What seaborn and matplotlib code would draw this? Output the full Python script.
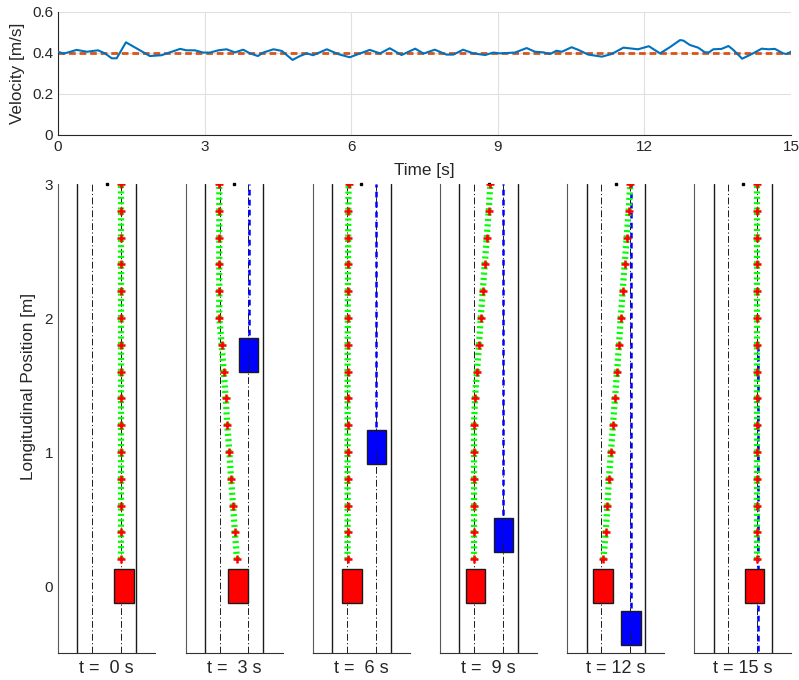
import numpy as np
import pandas as pd
import matplotlib
matplotlib.use("Agg")
import matplotlib.pyplot as plt
import seaborn as sns
from matplotlib.patches import Rectangle

# ---------------- data ----------------
time_s = [0.0, 0.11, 0.21, 0.38, 0.59, 0.82, 0.96, 1.10, 1.20, 1.39, 1.64, 1.88, 2.12, 2.29,
          2.50, 2.63, 2.80, 2.97, 3.11, 3.28, 3.45, 3.62, 3.79, 3.93, 4.09, 4.20, 4.41, 4.58,
          4.80, 4.95, 5.09, 5.22, 5.50, 5.74, 5.97, 6.15, 6.38, 6.59, 6.79, 7.03, 7.31, 7.48,
          7.71, 7.95, 8.09, 8.29, 8.50, 8.74, 8.91, 9.04, 9.35, 9.59, 9.76, 9.93, 10.07, 10.20,
          10.31, 10.51, 10.65, 10.85, 11.13, 11.33, 11.57, 11.87, 12.09, 12.32, 12.52, 12.73,
          12.80, 12.93, 13.10, 13.24, 13.32, 13.41, 13.58, 13.72, 13.82, 14.00, 14.19, 14.40,
          14.54, 14.67, 14.84, 14.91, 15.00]
velocity = [0.406, 0.397, 0.403, 0.415, 0.406, 0.413, 0.398, 0.374, 0.374, 0.452, 0.418, 0.385,
            0.389, 0.403, 0.420, 0.413, 0.413, 0.402, 0.402, 0.413, 0.418, 0.403, 0.416, 0.398,
            0.385, 0.402, 0.418, 0.410, 0.366, 0.385, 0.398, 0.389, 0.418, 0.394, 0.379, 0.395,
            0.415, 0.398, 0.423, 0.390, 0.421, 0.397, 0.416, 0.392, 0.392, 0.416, 0.398, 0.390,
            0.402, 0.398, 0.402, 0.424, 0.406, 0.403, 0.395, 0.411, 0.406, 0.428, 0.415, 0.392,
            0.382, 0.395, 0.426, 0.418, 0.433, 0.398, 0.428, 0.463, 0.460, 0.439, 0.426, 0.403,
            0.403, 0.418, 0.420, 0.434, 0.415, 0.372, 0.394, 0.421, 0.418, 0.420, 0.398, 0.395,
            0.406]
v_ref = 0.4

snap_times = [0, 3, 6, 9, 12, 15]
path_y = [0.2, 0.4, 0.6, 0.8, 1.0, 1.2, 1.4, 1.6, 1.8, 2.0, 2.2, 2.4, 2.6, 2.8, 3.0]
path_x_t0 = [0.108] * 15
path_x_t3 = [0.022, 0.007, -0.007, -0.022, -0.035, -0.050, -0.062, -0.077, -0.092, -0.110,
             -0.110, -0.110, -0.110, -0.110, -0.110]
path_x_t6 = [-0.104, -0.104, -0.103, -0.104, -0.104, -0.103, -0.104, -0.104, -0.103, -0.102,
             -0.102, -0.100, -0.099, -0.098, -0.096]
path_x_t9 = [-0.108, -0.108, -0.108, -0.108, -0.108, -0.108, -0.101, -0.086, -0.071, -0.058,
             -0.043, -0.028, -0.013, 0.0015, 0.0134]
path_x_t12 = [-0.093, -0.075, -0.063, -0.051, -0.036, -0.021, -0.006, 0.009, 0.024, 0.037,
              0.051, 0.066, 0.081, 0.096, 0.108]
path_x_t15 = [0.108] * 15
paths_x = [path_x_t0, path_x_t3, path_x_t6, path_x_t9, path_x_t12, path_x_t15]

ego_x = [0.130, 0.030, -0.071, -0.095, -0.095, 0.089]
ego_y = [0.0, 0.0, 0.0, 0.0, 0.0, 0.0]
obs_x = [np.nan, 0.110, 0.112, 0.110, 0.112, 0.110]
obs_y = [np.nan, 1.726, 1.034, 0.383, -0.310, -1.000]
obs_pred_end = [np.nan, 3.0, 3.0, 3.0, 3.0, 1.81]
car_w = 0.145
car_l = 0.254
lane_edges = [-0.218, 0.218]
lane_centers = [-0.108, 0.108]
y_ticks = [0, 1, 2, 3]

# ---------------- style ----------------
sns.set_style("white")
plt.rcParams["font.family"] = ["Liberation Sans", "DejaVu Sans"]
plt.rcParams["axes.edgecolor"] = "0.15"
plt.rcParams["xtick.color"] = "0.15"
plt.rcParams["ytick.color"] = "0.15"
plt.rcParams["text.color"] = "0.15"
plt.rcParams["axes.labelcolor"] = "0.15"

fig = plt.figure(figsize=(7.99, 6.8), dpi=100)

# ---------------- velocity panel ----------------
ax = fig.add_axes([0.0726, 0.8015, 0.9174, 0.1809])
df = pd.DataFrame({"t": time_s, "v": velocity})
ax.axhline(v_ref, color="#D95319", lw=2.0, ls=(0, (2.4, 1.4)), zorder=2)
sns.lineplot(data=df, x="t", y="v", ax=ax, color="#0072BD", lw=1.5, zorder=3)
ax.set_xlim(0, 15)
ax.set_ylim(0, 0.6)
ax.set_xticks([0, 3, 6, 9, 12, 15])
ax.set_yticks([0, 0.2, 0.4, 0.6])
ax.set_yticklabels(["0", "0.2", "0.4", "0.6"])
ax.grid(True, color="0.88", lw=0.8)
for s in ["top", "right"]:
    ax.spines[s].set_visible(False)
for s in ["left", "bottom"]:
    ax.spines[s].set_linewidth(0.8)
ax.tick_params(direction="in", length=4, width=0.8, labelsize=11)
ax.set_xlabel("Time [s]", fontsize=12.3)
ax.set_ylabel("Velocity [m/s]", fontsize=12.3)
ax.xaxis.set_label_coords(0.5, -0.225)
ax.yaxis.set_label_coords(-0.045, 0.5)

# ---------------- snapshot panels ----------------
lefts = [0.0726, 0.2322, 0.3917, 0.5507, 0.7100, 0.8690]
for i, t in enumerate(snap_times):
    a = fig.add_axes([lefts[i], 0.0397, 0.1214, 0.6897])
    a.set_xlim(-0.362, 0.362)
    a.set_ylim(-0.5, 3.0)
    for s in ["top", "right"]:
        a.spines[s].set_visible(False)
    a.spines["left"].set_linewidth(0.8)
    a.spines["left"].set_color("0.35")
    a.spines["bottom"].set_linewidth(0.8)
    a.spines["bottom"].set_color("0.2")

    # obstacle box (under lane lines)
    if not np.isnan(obs_x[i]):
        a.add_patch(Rectangle((obs_x[i] - car_w / 2, obs_y[i] - car_l / 2), car_w, car_l,
                              facecolor="#0000FF", edgecolor="0.1", lw=1.0, zorder=1.5))
    for xe in lane_edges:
        a.axvline(xe, color="0.1", lw=1.0, zorder=2)
    for xc in lane_centers:
        a.axvline(xc, color="0.1", lw=0.7, ls=(0, (7, 2.5, 1.2, 2.5)), zorder=2)
    a.plot([0], [3.0], marker="s", ms=1.6, color="k", clip_on=False, zorder=2)

    # obstacle prediction
    if not np.isnan(obs_x[i]):
        a.plot([obs_x[i], obs_x[i]], [obs_y[i], obs_pred_end[i]], color="#0000FF",
               lw=1.8, ls=(0, (2.3, 1.7)), zorder=3)

    # planned path
    a.plot(paths_x[i], path_y, color="#00FF00", lw=4.5, ls=(0, (0.34, 0.52)), zorder=4)
    a.plot(paths_x[i], path_y, ls="none", marker="+", ms=5.2, mew=1.8, color="#FF0000",
           zorder=5)

    # ego vehicle
    a.add_patch(Rectangle((ego_x[i] - car_w / 2, ego_y[i] - car_l / 2), car_w, car_l,
                          facecolor="#FF0000", edgecolor="0.1", lw=1.0, zorder=6))

    a.set_xticks([0])
    a.set_xticklabels([""])
    a.tick_params(axis="x", direction="in", length=4, width=0.8)
    a.set_xlabel(f"t = {t:2d} s", fontsize=13)
    a.xaxis.set_label_coords(0.5, -0.014)
    if i == 0:
        a.set_yticks(y_ticks)
        a.set_yticklabels([str(v) for v in y_ticks])
        a.tick_params(axis="y", direction="in", length=4, width=0.8, labelsize=11)
        a.set_ylabel("Longitudinal Position [m]", fontsize=12.3)
        a.yaxis.set_label_coords(-0.23, 0.569)
    else:
        a.set_yticks([])

fig.savefig("out.png", dpi=100)
